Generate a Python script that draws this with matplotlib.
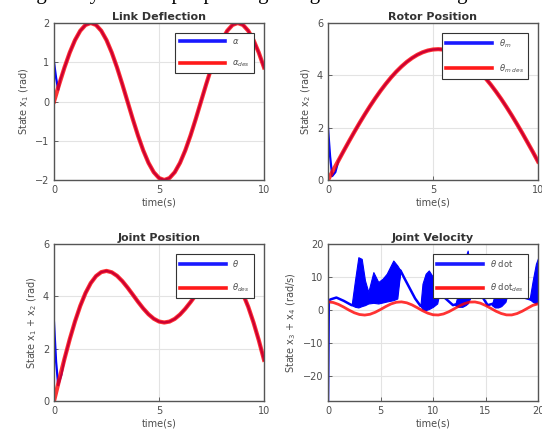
import numpy as np
import matplotlib
matplotlib.use("Agg")
import matplotlib.pyplot as plt

# ---- data ----
# time grids
t_pos = np.linspace(0, 10, 41)      # 0..10 s, step 0.25
t_vel_des = np.linspace(0, 20, 41)  # 0..20 s, step 0.5

# link deflection x1
x1_des = [0.0, 0.445, 0.868, 1.247, 1.564, 1.802, 1.950, 2.0, 1.950, 1.802, 1.564,
          1.247, 0.868, 0.445, 0.0, -0.445, -0.868, -1.247, -1.564, -1.802, -1.950,
          -2.0, -1.950, -1.802, -1.564, -1.247, -0.868, -0.445, 0.0, 0.445, 0.868,
          1.247, 1.564, 1.802, 1.950, 2.0, 1.950, 1.802, 1.564, 1.247, 0.868]
x1_start_t = [0.0, 0.1, 0.2, 0.3]
x1_start = [1.0, 0.6, 0.3, 0.55]

# rotor position x2
x2_des = [0.0, 0.375, 0.747, 1.116, 1.478, 1.832, 2.175, 2.506, 2.823, 3.124, 3.408,
          3.672, 3.917, 4.139, 4.337, 4.512, 4.660, 4.783, 4.879, 4.947, 4.987, 5.000,
          4.985, 4.940, 4.869, 4.771, 4.645, 4.494, 4.316, 4.115, 3.890, 3.645, 3.377,
          3.093, 2.789, 2.471, 2.137, 1.795, 1.438, 1.080, 0.706]
x2_start_t = [0.0, 0.1, 0.2, 0.35]
x2_start = [2.0, 0.9, 0.15, 0.3]

# joint position x1 + x2
q_des = [0.0, 0.820, 1.615, 2.363, 3.042, 3.634, 4.125, 4.506, 4.773, 4.926, 4.972,
         4.919, 4.785, 4.584, 4.337, 4.067, 3.792, 3.536, 3.315, 3.145, 3.037, 3.000,
         3.035, 3.138, 3.305, 3.524, 3.777, 4.049, 4.316, 4.560, 4.758, 4.892, 4.941,
         4.895, 4.739, 4.471, 4.087, 3.597, 3.002, 2.327, 1.574]
q_start_t = [0.0, 0.1, 0.2, 0.35]
q_start = [3.0, 1.5, 0.6, 1.0]

# joint velocity x3 + x4
qd_des = [2.5, 2.30, 1.73, 0.91, 0.0, -0.80, -1.33, -1.50, -1.26, -0.65, 0.18, 1.08,
          1.87, 2.37, 2.49, 2.21, 1.58, 0.73, -0.17, -0.92, -1.41, -1.48, -1.16, -0.50,
          0.36, 1.25, 1.98, 2.43, 2.47, 2.11, 1.41, 0.55, -0.34, -1.03, -1.45, -1.46,
          -1.05, -0.33, 0.56, 1.44, 1.9]
vel_t = [0, 0.08, 0.3, 0.8, 1.5, 2.25, 3.0, 4.0, 5.0, 6.0, 6.6, 6.9, 7.3, 7.8, 8.3,
         8.8, 9.4, 10.0, 10.6, 11.2, 11.9, 12.5, 13.3, 13.8, 14.5, 15.2, 15.8, 16.5,
         17.2, 18.5, 19.2, 19.6, 20.0]
vel_v = [-27.3, 3.0, 3.3, 3.8, 2.8, 1.5, 2.0, 2.5, 3.0, 3.5, 6.0, 12.0, 9.5, 6.5, 3.5,
         1.3, 2.0, 4.5, 5.0, 3.5, 1.5, 2.0, 9.0, 8.0, 5.0, 1.5, 2.0, 3.0,
         6.0, 4.0, 3.3, 3.0, 3.5]
# chattering bands (time, low, high)
chatter = [
    ([2.25, 2.57, 2.89, 3.21, 3.52, 3.84, 4.32, 4.79, 5.2, 5.59, 6.22, 6.6, 6.9],
     [1.5, 1.0, 0.8, 1.2, 1.5, 2.0, 2.2, 2.0, 2.3, 2.6, 3.0, 3.5, 12.0],
     [1.5, 9.0, 16.0, 15.5, 9.0, 5.5, 11.5, 8.5, 9.5, 11.0, 15.0, 13.5, 12.0]),
    ([8.8, 9.0, 9.3, 9.6, 10.0, 10.4, 10.6],
     [1.3, 0.3, 0.0, 0.3, 1.0, 2.0, 5.0],
     [1.3, 8.0, 11.0, 12.0, 10.0, 7.0, 5.0]),
    ([12.1, 12.4, 12.8, 13.1, 13.3, 13.6, 13.9],
     [1.5, 1.0, 1.0, 1.5, 2.0, 4.0, 8.0],
     [1.5, 5.0, 12.0, 16.0, 18.0, 12.0, 8.0]),
    ([15.6, 15.9, 16.2, 16.5, 16.9, 17.2],
     [1.5, 0.8, 0.8, 1.2, 2.5, 6.0],
     [1.5, 5.0, 8.0, 9.0, 8.0, 6.0]),
    ([19.2, 19.5, 19.8, 20.0],
     [3.3, 2.5, 2.0, 2.5],
     [3.3, 9.0, 14.0, 15.7]),
]

W, H = 542, 438
fig = plt.figure(figsize=(W / 100, H / 100), dpi=100)

# caption of the source page, cut off at the top edge
fig.text(0.035, 1 + 1.0 / H, "Fig. 6. System output plotting along with the tracking of the desired trajectories",
         family="Liberation Serif", fontsize=15, va="baseline", ha="left", color="black")

BLUE = (0, 0, 1)
RED = (1, 0, 0)
GRAY = "#4d4d4d"


def make_axes(left_px, top_px):
    ax = fig.add_axes([left_px / W, 1 - (top_px + 157) / H, 210 / W, 157 / H])
    ax.grid(True, color="#e3e3e3", linewidth=0.8)
    ax.set_axisbelow(True)
    ax.tick_params(direction="in", labelsize=7, colors=GRAY, length=3, width=0.6)
    for s in ax.spines.values():
        s.set_color("#555555")
        s.set_linewidth(1.0)
    return ax


def style(ax, title, ylabel):
    ax.set_title(title, fontsize=8, fontweight="bold", color="#333333", pad=2)
    ax.set_xlabel("time(s)", fontsize=7, color=GRAY, labelpad=2)
    ax.set_ylabel(ylabel, fontsize=7, color=GRAY, labelpad=3)


def add_legend(ax, labels=None):
    kw = dict(loc="upper right", fontsize=6, handlelength=5.5, borderaxespad=1.2,
              framealpha=1, fancybox=False, edgecolor="#333333",
              labelspacing=1.5, borderpad=0.5)
    leg = ax.legend(labels, **kw) if labels else ax.legend(**kw)
    leg.get_frame().set_linewidth(0.8)
    for line in leg.get_lines():
        line.set_linewidth(2.6)
        line.set_alpha(0.9)
    for txt in leg.get_texts():
        txt.set_color(GRAY)


def position_plot(ax, t, des, st_t, st, start_idx):
    act_t = list(st_t) + list(t[start_idx:])
    act = list(st) + list(des[start_idx:])
    ax.plot(act_t, act, color=BLUE, lw=1.6)
    ax.plot(t, des, color=RED, lw=3.0, alpha=0.8)


# Link Deflection
ax1 = make_axes(54, 23)
position_plot(ax1, t_pos, x1_des, x1_start_t, x1_start, 2)
ax1.set_xlim(0, 10)
ax1.set_ylim(-2, 2)
ax1.set_xticks([0, 5, 10])
ax1.set_yticks([-2, -1, 0, 1, 2])
style(ax1, "Link Deflection", "State x$_1$ (rad)")
add_legend(ax1, [r"$\alpha$", r"$\alpha_{des}$"])

# Rotor Position
ax2 = make_axes(328, 23)
position_plot(ax2, t_pos, x2_des, x2_start_t, x2_start, 2)
ax2.set_xlim(0, 10)
ax2.set_ylim(0, 6)
ax2.set_xticks([0, 5, 10])
ax2.set_yticks([0, 2, 4, 6])
style(ax2, "Rotor Position", "State x$_2$ (rad)")
add_legend(ax2, [r"$\theta_m$", r"$\theta_{m\ des}$"])

# Joint Position
ax3 = make_axes(54, 244)
position_plot(ax3, t_pos, q_des, q_start_t, q_start, 2)
ax3.set_xlim(0, 10)
ax3.set_ylim(0, 6)
ax3.set_xticks([0, 5, 10])
ax3.set_yticks([0, 2, 4, 6])
style(ax3, "Joint Position", "State x$_1$ + x$_2$ (rad)")
add_legend(ax3, [r"$\theta$", r"$\theta_{des}$"])

# Joint Velocity
ax4 = make_axes(328, 244)
for ct, lo, hi in chatter:
    ax4.fill_between(ct, lo, hi, color=BLUE, lw=0.8, edgecolor=BLUE)
ax4.plot(vel_t, vel_v, color=BLUE, lw=1.8, label=r"$\theta$ dot")
ax4.plot(t_vel_des, qd_des, color=RED, lw=2.0, alpha=0.8, label=r"$\theta$ dot$_{des}$")
ax4.set_xlim(0, 20)
ax4.set_ylim(-27.5, 20)
ax4.set_xticks([0, 5, 10, 15, 20])
ax4.set_yticks([-20, -10, 0, 10, 20])
style(ax4, "Joint Velocity", "State x$_3$ + x$_4$ (rad/s)")
add_legend(ax4)

fig.savefig("out.png", dpi=100)
